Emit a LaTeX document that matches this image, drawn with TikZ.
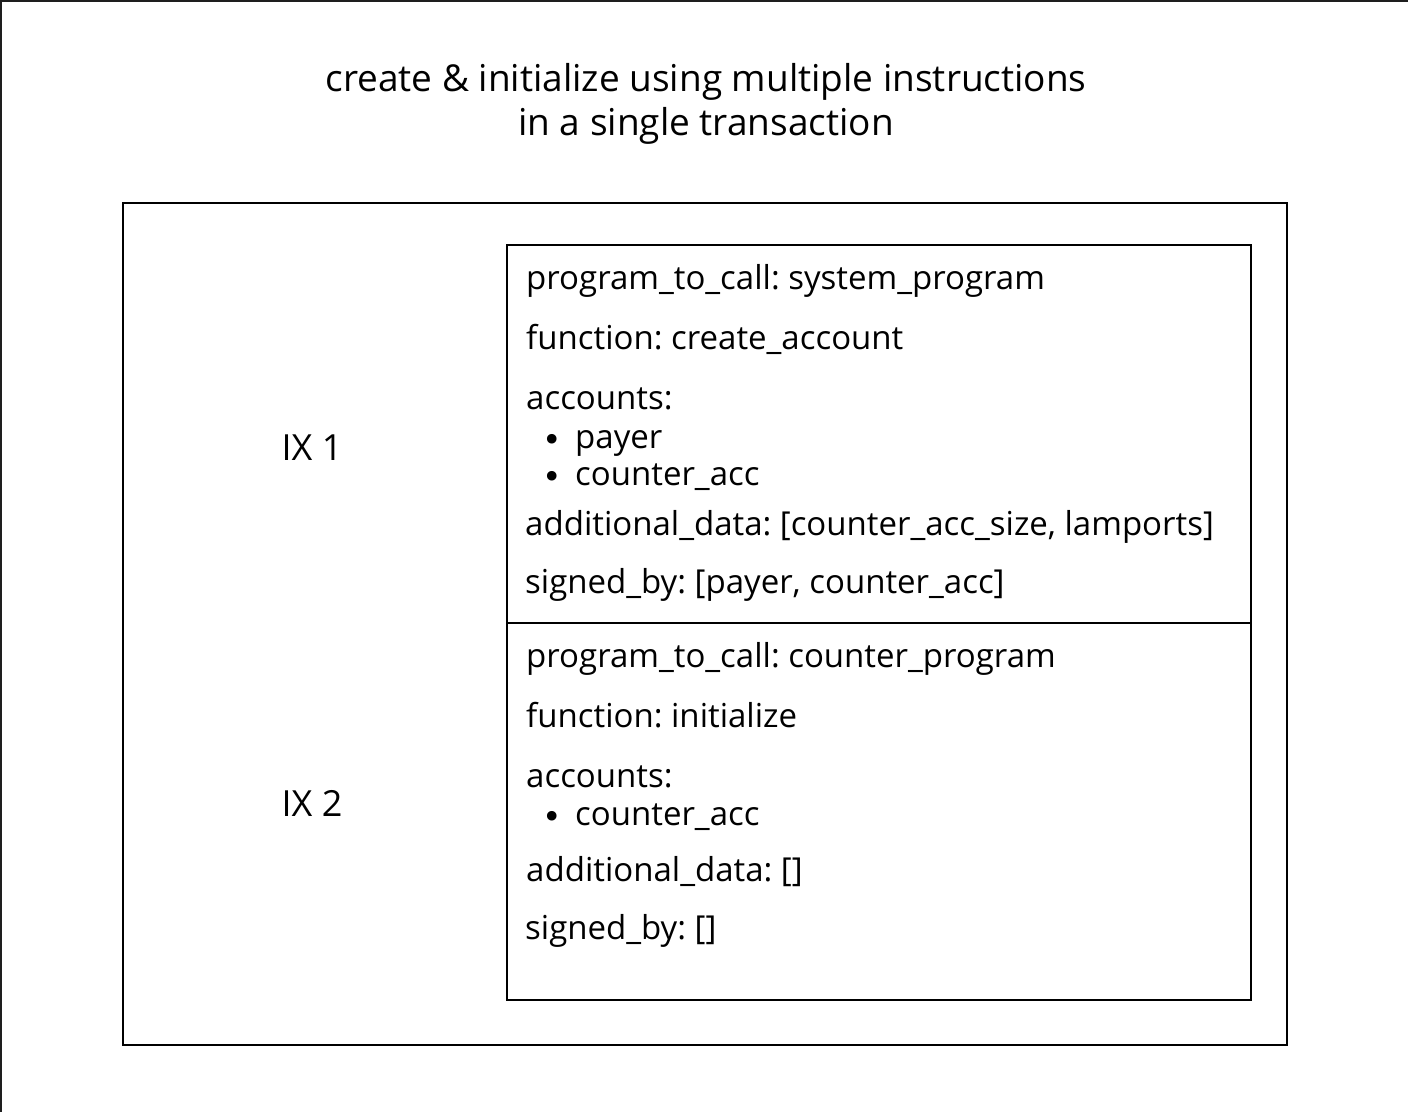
\documentclass[tikz,border=0pt]{standalone}
\usepackage{fontspec}
\setmainfont{Open Sans}
\newfontfamily\bulletfont{DejaVu Sans}
\usepackage{xcolor}
\usepackage{tikz}
\usetikzlibrary{positioning}

\definecolor{edgegray}{HTML}{1E1E1E}

\tikzset{
    label text/.style={anchor=base west, inner sep=0pt, font=\fontsize{33}{40}\selectfont},
    bullet mark/.style={anchor=base, inner sep=0pt, font=\bulletfont\fontsize{33}{40}\selectfont},
    ix text/.style={anchor=base, inner sep=0pt, font=\fontsize{36}{42}\selectfont},
    title text/.style={anchor=base, inner sep=0pt, font=\fontsize{37}{44}\selectfont},
    frame box/.style={draw, line width=2pt}
}

\begin{document}
\frenchspacing
\begin{tikzpicture}[x=1pt, y=-1pt]
    \useasboundingbox (0,0) rectangle (1408,1112);
    % Bord de la capture
    \fill[edgegray] (0,0) rectangle (1408,2);
    \fill[edgegray] (0,0) rectangle (2,1112);

    % Titre
    \node[title text] (title1) at (706,91) {create \& initialize using multiple instructions};
    \node[title text] (title2) at (706,135) {in a single transaction};

    % Cadres
    \draw[frame box] (123,203) rectangle (1287,1045);
    \draw[frame box] (507,245) rectangle (1251,1000);
    \draw[line width=2pt] (507,623) -- (1251,623);

    % Etiquettes
    \node[ix text] (ix1) at (312,460) {IX 1};
    \node[ix text] (ix2) at (312,816) {IX 2};

    % Instruction 1
    \node[label text] (prog1) at (526,289) {program\_to\_call: system\_program};
    \node[label text] (func1) at (526,349) {function: create\_account};
    \node[label text] (acc1) at (526,409) {accounts:};
    \node[bullet mark] (bul1) at (552,451) {•};
    \node[label text] (payer) at (575,448) {payer};
    \node[bullet mark] (bul2) at (552,488) {•};
    \node[label text] (cnt1) at (575,485) {counter\_acc};
    \node[label text] (data1) at (525,535) {additional\_data: [counter\_acc\_size, lamports]};
    \node[label text] (sign1) at (525,593) {signed\_by: [payer, counter\_acc]};

    % Instruction 2
    \node[label text] (prog2) at (526,667) {program\_to\_call: counter\_program};
    \node[label text] (func2) at (526,727) {function: initialize};
    \node[label text] (acc2) at (526,787) {accounts:};
    \node[bullet mark] (bul3) at (552,828) {•};
    \node[label text] (cnt2) at (575,825) {counter\_acc};
    \node[label text] (data2) at (526,881) {additional\_data: []};
    \node[label text] (sign2) at (525,939) {signed\_by: []};
\end{tikzpicture}
\end{document}
